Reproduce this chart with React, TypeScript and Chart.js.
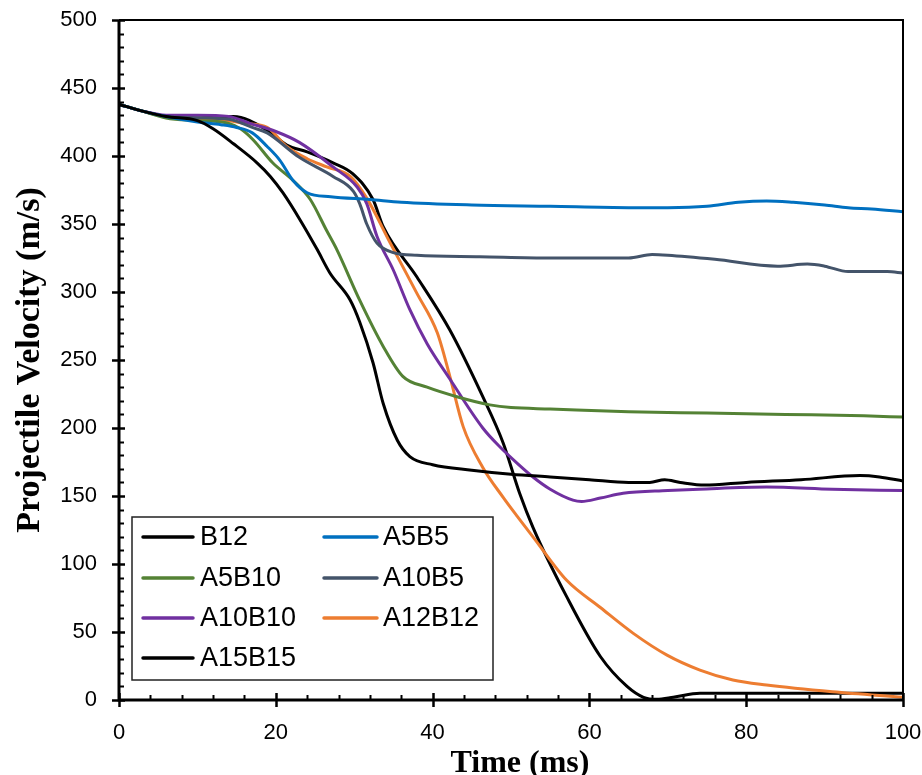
import React, { useEffect, useRef } from "react";
import { Chart, registerables } from "chart.js";

Chart.register(...registerables);

// ---- Data ----
const seriesNames = ["B12", "A5B5", "A5B10", "A10B5", "A10B10", "A12B12", "A15B15"];
const seriesColors = ["#000000", "#0070C0", "#548235", "#44546A", "#7030A0", "#ED7D31", "#000000"];

const b12T = [0, 3, 6, 10, 12, 14.6, 17.6, 19.3, 20.9, 23.1, 25.3, 26.9, 29.5, 30.7, 32.4, 33.7, 35.5, 37.1, 40, 45, 50, 55, 60, 65, 67.7, 69.6, 71.6, 74.7, 80, 87, 94.5, 97, 100];
const b12V = [438, 433, 429, 426, 420, 409, 395, 385, 373, 353, 331, 314, 294, 278, 248, 218, 191, 179, 173, 169, 166, 164, 162, 160, 160, 162, 160, 158, 160, 162, 165, 164, 161];

const a5b5T = [0, 3, 6, 10, 13, 15, 17, 18.9, 20.5, 22.2, 24, 27, 32, 36, 45, 55, 65, 70, 75, 79, 82.6, 86, 90, 93, 96, 100];
const a5b5V = [438, 433, 429, 425, 423, 421, 417, 407, 397, 382, 373, 370, 368, 366, 364, 363, 362, 362, 363, 366, 367, 366, 364, 362, 361, 359];

const a5b10T = [0, 3, 6, 10, 14, 15.5, 17.1, 19.6, 22.2, 24.4, 26.5, 27.8, 30.7, 33.7, 36.2, 39.3, 43.1, 47.3, 50, 55, 65, 75, 85, 95, 100];
const a5b10V = [438, 433, 428, 426, 424, 420, 412, 395, 382, 368, 345, 331, 294, 260, 238, 230, 223, 217, 215, 214, 212, 211, 210, 209, 208];

const a10b5T = [0, 3, 6, 10, 14, 17, 18.9, 23, 27.3, 29.9, 30.7, 31.6, 32.9, 35, 38, 46, 55, 65, 68, 70, 76, 84, 87.8, 90, 93, 98, 100];
const a10b5V = [438, 433, 429, 428, 427, 421, 417, 399, 385, 374, 365, 350, 336, 329, 327, 326, 325, 325, 327.5, 327, 324, 319, 320.5, 319, 315, 315, 314];

const a10b10T = [0, 3, 6, 10, 14, 16.7, 20, 23, 27.3, 30.4, 31.6, 32.9, 35, 37.1, 39.3, 42.2, 46.4, 48.6, 50.8, 52.8, 55, 57.9, 59, 61.4, 64.3, 70, 74, 82.6, 91, 100];
const a10b10V = [438, 433, 430, 430, 429, 424, 418, 410, 392, 377, 365, 341, 316, 287, 262, 236, 200, 186, 174, 164, 155, 147, 146, 148.5, 152, 154, 155, 156.6, 155, 154];

const a12b12T = [0, 3, 6, 10, 14, 16, 18.9, 21.4, 24, 26.5, 29.5, 31.6, 34.6, 38, 40.6, 42.2, 43.9, 46.4, 49, 50.8, 52.8, 57.1, 61.4, 65.6, 69.9, 74.1, 78.3, 82.6, 91, 100];
const a12b12V = [438, 433, 429, 427, 426, 424, 421, 407, 398, 392, 385, 369, 336, 299, 270, 238, 201, 171, 149, 135, 120, 88, 68, 49, 33, 22, 14.7, 11, 6, 2];

const a15b15T = [0, 3, 6, 10, 14.6, 18.9, 21.4, 24, 27.3, 29.8, 32.4, 33.7, 38, 42.2, 46.4, 49, 51.1, 52.8, 57.1, 61.4, 64.8, 66.9, 68.6, 70.7, 74.1, 78, 85, 95, 100];
const a15b15V = [438, 433, 429, 428, 429, 419, 408, 403, 395, 387, 368, 348, 311, 272, 223, 189, 152, 127, 76, 32, 10, 2, 0.5, 2, 5, 5, 5, 5, 5];

const seriesT = [b12T, a5b5T, a5b10T, a10b5T, a10b10T, a12b12T, a15b15T];
const seriesV = [b12V, a5b5V, a5b10V, a10b5V, a10b10V, a12b12V, a15b15V];

const xTicks = [0, 20, 40, 60, 80, 100];
const yTicks = [0, 50, 100, 150, 200, 250, 300, 350, 400, 450, 500];
const xTitle = "Time (ms)";
const yTitle = "Projectile Velocity (m/s)";

const frameAndLegend = {
  id: "frameAndLegend",
  afterDatasetsDraw(chart: any) {
    const { ctx, chartArea, scales } = chart;
    const { left, right, top, bottom } = chartArea;
    const xs = scales.x;
    const ys = scales.y;
    ctx.save();
    ctx.strokeStyle = "#000";
    // top/right frame
    ctx.lineWidth = 2;
    ctx.beginPath();
    ctx.moveTo(left, top);
    ctx.lineTo(right, top);
    ctx.lineTo(right, bottom);
    ctx.stroke();
    // axes
    ctx.lineWidth = 3;
    ctx.beginPath();
    ctx.moveTo(left, top);
    ctx.lineTo(left, bottom);
    ctx.lineTo(right, bottom);
    ctx.stroke();
    // y ticks
    for (let v = 0; v <= 500; v += 10) {
      const y = Math.round(ys.getPixelForValue(v)) + 0.5;
      ctx.beginPath();
      if (v % 50 === 0) {
        ctx.lineWidth = 2.5;
        ctx.moveTo(left - 7, y);
        ctx.lineTo(left + 6, y);
      } else {
        ctx.lineWidth = 2;
        ctx.moveTo(left, y);
        ctx.lineTo(left + 5, y);
      }
      ctx.stroke();
    }
    // x ticks
    for (let t = 0; t <= 100; t += 4) {
      const x = Math.round(xs.getPixelForValue(t)) + 0.5;
      ctx.beginPath();
      if (t % 20 === 0) {
        ctx.lineWidth = 2.5;
        ctx.moveTo(x, bottom - 7);
        ctx.lineTo(x, bottom + 7);
      } else {
        ctx.lineWidth = 2;
        ctx.moveTo(x, bottom - 5);
        ctx.lineTo(x, bottom);
      }
      ctx.stroke();
    }

    // axis titles
    ctx.fillStyle = "#000";
    ctx.font = "bold 32px 'Liberation Serif', 'Times New Roman', serif";
    ctx.textAlign = "center";
    ctx.textBaseline = "alphabetic";
    ctx.fillText(xTitle, (left + right) / 2 + 9, 772);
    ctx.save();
    ctx.translate(39, (top + bottom) / 2);
    ctx.rotate(-Math.PI / 2);
    ctx.font = "bold 34px 'Liberation Serif', 'Times New Roman', serif";
    ctx.fillText(yTitle, 0, 0);
    ctx.restore();

    // legend
    const bx = 132, by = 517, bw = 361, bh = 163;
    ctx.fillStyle = "#fff";
    ctx.fillRect(bx, by, bw, bh);
    ctx.lineWidth = 1.5;
    ctx.strokeStyle = "#222";
    ctx.strokeRect(bx, by, bw, bh);
    ctx.font = "27px 'Liberation Sans', Arial, sans-serif";
    ctx.textAlign = "left";
    ctx.textBaseline = "middle";
    ctx.lineCap = "round";
    const colLine = [[143, 193, 200], [324, 377, 383]];
    const rowY = [537, 578, 618, 658];
    seriesNames.forEach((name, i) => {
      const col = i % 2;
      const row = Math.floor(i / 2);
      const [x0, x1, tx] = colLine[col];
      const y = rowY[row];
      ctx.strokeStyle = seriesColors[i];
      ctx.lineWidth = 3.5;
      ctx.beginPath();
      ctx.moveTo(x0, y);
      ctx.lineTo(x1, y);
      ctx.stroke();
      ctx.fillStyle = "#000";
      ctx.fillText(name, tx, y + 1);
    });
    ctx.restore();
  },
};

export default function App() {
  const canvasRef = useRef<HTMLCanvasElement | null>(null);

  useEffect(() => {
    if (!canvasRef.current) return;
    const datasets = seriesNames.map((name, i) => ({
      label: name,
      data: seriesT[i].map((t, j) => ({ x: t, y: seriesV[i][j] })),
      borderColor: seriesColors[i],
      backgroundColor: seriesColors[i],
      borderWidth: 3,
      pointRadius: 0,
      cubicInterpolationMode: "monotone" as const,
      fill: false,
    }));
    const chart = new Chart(canvasRef.current, {
      type: "line",
      data: { datasets },
      plugins: [frameAndLegend],
      options: {
        animation: false,
        responsive: false,
        maintainAspectRatio: false,
        devicePixelRatio: 1,
        layout: { padding: { left: 0, top: 20, right: 19, bottom: 0 } },
        plugins: { legend: { display: false }, tooltip: { enabled: false } },
        scales: {
          x: {
            type: "linear",
            min: 0,
            max: 100,
            afterFit: (s: any) => {
              s.height = 75;
              s.paddingLeft = 0;
              s.paddingRight = 0;
            },
            afterBuildTicks: (s: any) => { s.ticks = xTicks.map((v) => ({ value: v })); },
            grid: { display: false },
            border: { display: false },
            ticks: {
              color: "#000",
              padding: 12,
              maxRotation: 0,
              font: { family: "'Liberation Sans', Arial, sans-serif", size: 22 },
            },
          },
          y: {
            type: "linear",
            min: 0,
            max: 500,
            afterFit: (s: any) => {
              s.width = 119;
              s.paddingTop = 0;
              s.paddingBottom = 0;
            },
            afterBuildTicks: (s: any) => { s.ticks = yTicks.map((v) => ({ value: v })); },
            grid: { display: false },
            border: { display: false },
            ticks: {
              color: "#000",
              padding: 14,
              font: { family: "'Liberation Sans', Arial, sans-serif", size: 22 },
            },
          },
        },
      },
    });
    return () => chart.destroy();
  }, []);

  return (
    <div style={{ position: "absolute", left: 0, top: 0, width: 922, height: 775, background: "#fff" }}>
      <canvas ref={canvasRef} width={922} height={775} style={{ display: "block" }} />
    </div>
  );
}
